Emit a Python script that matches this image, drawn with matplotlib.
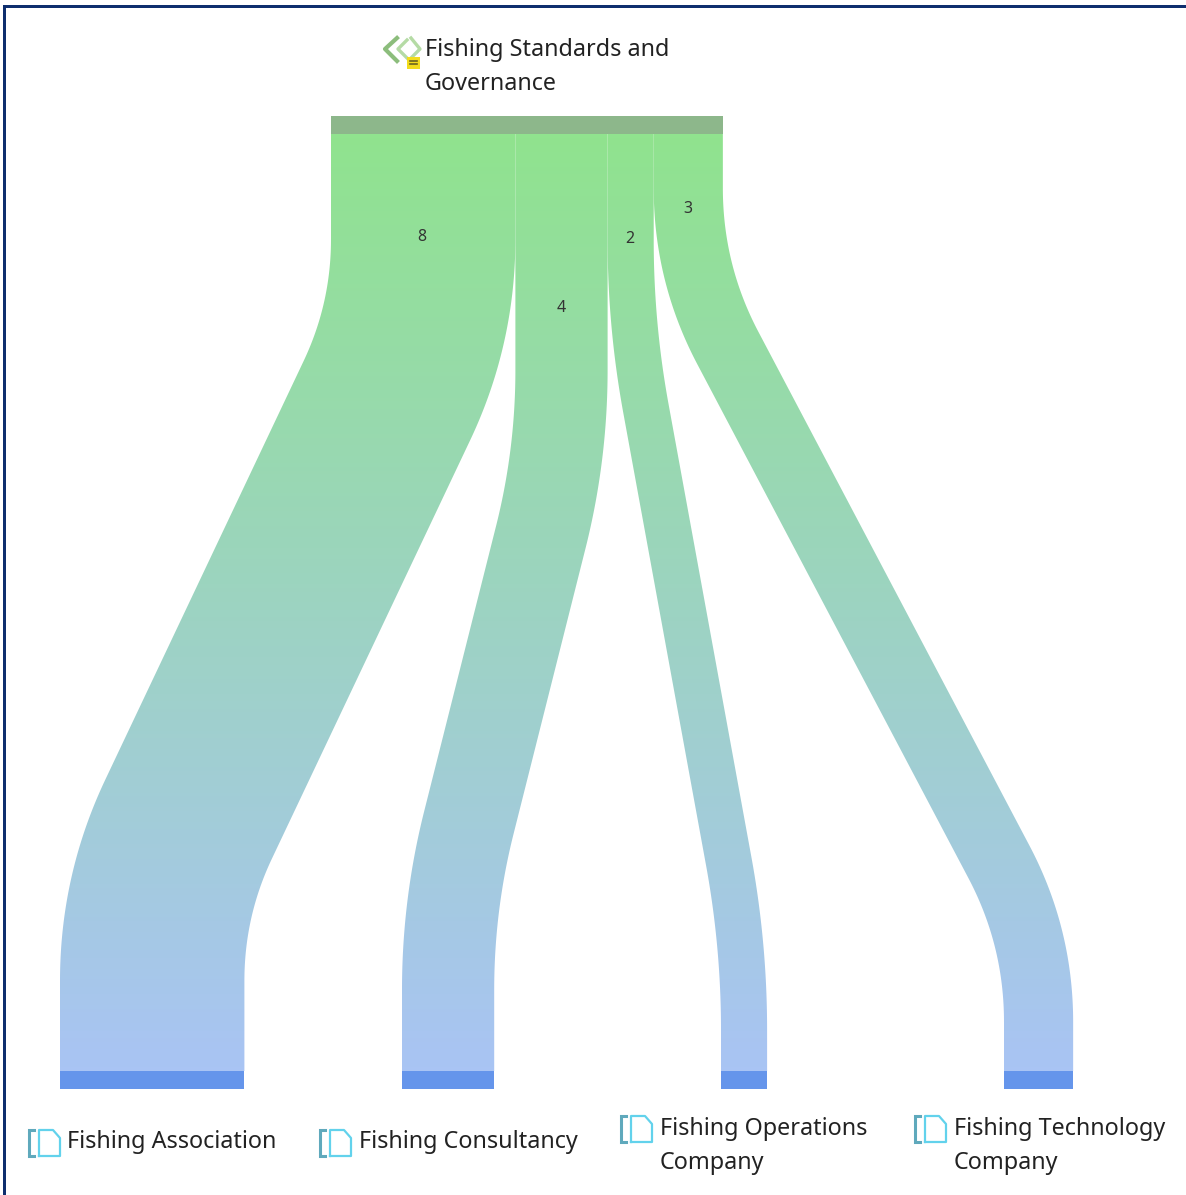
#!/usr/bin/python
import numpy as np
import matplotlib
matplotlib.use('Agg')
import matplotlib.pyplot as plt
from matplotlib.colors import LinearSegmentedColormap
from matplotlib.patches import Polygon, Rectangle

# flows out of the source node
source_name = 'Fishing Standards and\nGovernance'
target_names = ['Fishing Association', 'Fishing Consultancy',
                'Fishing Operations\nCompany', 'Fishing Technology\nCompany']
flow_values = [8, 4, 2, 3]

# layout, in pixels from the top left corner
W, H = 1186, 1195
unit = 23.05
source_left = 331
target_lefts = [60, 402, 721, 1004]
node_h = 18
top_y = 134
bottom_y = 1071
bend_top = [324, 455, 325, 273]
bend_bottom = [896, 905, 945, 937]
bend_r = 85.0
label_pos = [(422, 237), (561, 308), (630, 239), (688, 209)]
icon_pos = [(28, 1129), (319, 1129), (620, 1115), (914, 1115)]
text_pos = [(67, 1142), (359, 1142), (660, 1146), (954, 1146)]

def corner(a, b, c, r, n=60):
    # quadratic round-off of the corner at b
    u = (a-b)/np.hypot(*(a-b))
    v = (c-b)/np.hypot(*(c-b))
    s, e = b+u*r, b+v*r
    t = np.linspace(0, 1, n)[:, None]
    return (1-t)**2*s + 2*(1-t)*t*b + t**2*e

def center_line(p0, p1, p2, p3):
    p0, p1, p2, p3 = [np.array(p, float) for p in (p0, p1, p2, p3)]
    return np.vstack([p0, corner(p0, p1, p2, bend_r), corner(p1, p2, p3, bend_r), p3])

def ribbon(center, width):
    # thick stroke along the centre line as a closed outline
    d = np.gradient(center, axis=0)
    d /= np.maximum(np.hypot(d[:, 0], d[:, 1]), 1e-9)[:, None]
    d[0], d[-1] = (0, 1), (0, 1)
    nrm = np.column_stack([d[:, 1], -d[:, 0]])
    return np.vstack([center - nrm*width/2, (center + nrm*width/2)[::-1]])

def doc_icon(ax, x, y):
    ax.plot([x+6, x+1, x+1, x+6], [y+1, y+1, y+27, y+27], color='#5FA9BC', lw=2.2, solid_joinstyle='miter')
    ax.plot([x+11, x+11, x+25, x+32, x+32, x+11],
            [y+27, y+1, y+1, y+9, y+27, y+27], color='#62D2EC', lw=1.6)

fig = plt.figure(figsize=(W/100, H/100), dpi=100)
ax = fig.add_axes([0, 0, 1, 1])
ax.axis('off')

cmap = LinearSegmentedColormap.from_list('flow', ['#90E38E', '#A9C4F4'])
grad = np.linspace(0, 1, 256)[:, None]

x0 = source_left
for i, v in enumerate(flow_values):
    w = v*unit
    xs = x0 + w/2
    xt = target_lefts[i] + w/2
    c = center_line((xs, top_y), (xs, bend_top[i]), (xt, bend_bottom[i]), (xt, bottom_y))
    patch = Polygon(ribbon(c, w), closed=True, fc='none', ec='none')
    ax.add_patch(patch)
    im = ax.imshow(grad, cmap=cmap, extent=[0, W, bottom_y, top_y], aspect='auto', zorder=1, vmin=0, vmax=1)
    im.set_clip_path(patch)
    ax.add_patch(Rectangle((target_lefts[i], bottom_y), w, node_h, fc='#6595EB', ec='none', zorder=2))
    ax.text(label_pos[i][0], label_pos[i][1], str(v), fontsize=11.5, color='#333333',
            family='Noto Sans', ha='center', va='center', zorder=3)
    x0 += w
ax.set_xlim(0, W)
ax.set_ylim(H, 0)

ax.add_patch(Rectangle((source_left, top_y-node_h), sum(flow_values)*unit, node_h,
                       fc='#8DB78B', ec='none', zorder=2))

# source node icon
ax.plot([397, 385, 397], [38, 49, 61], color='#8CBD7C', lw=3)
ax.plot([407, 398, 409, 420, 411], [40, 49, 60, 49, 38], color='#B5DBA5', lw=2.4)
ax.add_patch(Rectangle((407, 57), 13, 12, fc='#F2DC1C', ec='none', zorder=3))
ax.plot([410, 417], [61, 61], color='#6B6420', lw=1.2, zorder=4)
ax.plot([410, 417], [64, 64], color='#6B6420', lw=1.2, zorder=4)

txt = dict(fontsize=16.8, color='#222222', family='Noto Sans', linespacing=1.55)
ax.text(425, 67, source_name, ha='left', va='center', **txt)
for i, name in enumerate(target_names):
    doc_icon(ax, *icon_pos[i])
    ax.text(text_pos[i][0], text_pos[i][1], name, ha='left', va='center', **txt)

# window frame along the left and top edges
ax.add_patch(Rectangle((3, 5), W, 2.5, fc='#0E2E6E', ec='none', zorder=5))
ax.add_patch(Rectangle((3, 5), 2.5, H, fc='#0E2E6E', ec='none', zorder=5))

plt.savefig('out.png', dpi=100)
plt.close()
